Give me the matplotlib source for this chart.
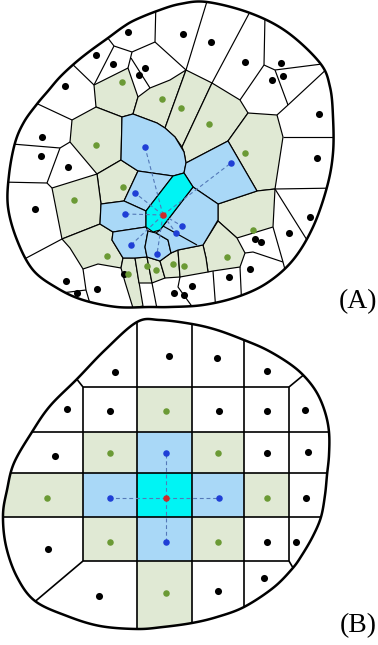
import numpy as np
import matplotlib
matplotlib.use("Agg")
import matplotlib.pyplot as plt
from matplotlib.path import Path
from matplotlib.patches import PathPatch, Polygon, Rectangle
from matplotlib.collections import LineCollection

plt.rcParams["font.family"] = "serif"
plt.rcParams["font.serif"] = ["Liberation Serif", "DejaVu Serif"]

W, H = 378, 645

GREEN = "#e0e9d4"
BLUE = "#a9d8f7"
CYAN = "#00f4f4"
DOT_GREEN = "#6b9a35"
DOT_BLUE = "#1f3fd6"
DOT_RED = "#cc2a2a"
DASH = "#5479b8"

# ---------------- panel A : irregular tessellation ----------------
BLOB_A = [(180, 4), (207, 2), (250, 13), (287, 32), (320, 63), (330, 87),
          (333, 117), (333, 153), (327, 187), (313, 227), (293, 260),
          (267, 283), (237, 297), (203, 305), (170, 307), (150, 307),
          (117, 307), (83, 300), (57, 288), (33, 270), (17, 240), (8, 207),
          (9, 175), (15, 143), (24, 122), (37, 104), (48, 91), (60, 77),
          (75, 63), (90, 51), (108, 38), (123, 27), (135, 20), (157, 11)]

CELL_A_CYAN = [(146, 211), (173, 176), (184, 173), (193, 187), (160, 230),
               (153, 232), (146, 227)]

CELLS_A_BLUE = [
    [(122, 117), (133, 114), (157, 123), (165, 128), (175, 137), (184, 152),
     (186, 163), (184, 173), (173, 176), (138, 171), (121, 160)],
    [(186, 163), (228, 141), (257, 191), (218, 204), (193, 187), (184, 173)],
    [(138, 171), (173, 176), (146, 211), (124, 201)],
    [(101, 204), (124, 201), (146, 211), (146, 227), (113, 232), (100, 224)],
    [(113, 232), (146, 227), (148, 231), (145, 247), (147, 257), (135, 258),
     (123, 258), (112, 240)],
    [(148, 231), (156, 233), (168, 240), (171, 253), (160, 261), (147, 257),
     (145, 247)],
    [(160, 230), (193, 187), (218, 204), (218, 220), (203, 245), (178, 250),
     (171, 253), (168, 240), (156, 233)],
]

CELLS_A_GREEN = [
    [(94, 85), (128, 68), (138, 97), (133, 114), (122, 117), (96, 107)],
    [(138, 97), (150, 88), (170, 80), (186, 70), (165, 128), (157, 123),
     (133, 114)],
    [(186, 70), (212, 83), (182, 147), (175, 137), (165, 128)],
    [(212, 83), (240, 100), (248, 113), (228, 141), (186, 163), (184, 152),
     (182, 147)],
    [(248, 113), (277, 115), (283, 137), (275, 189), (257, 191), (228, 141)],
    [(218, 204), (257, 191), (275, 189), (273, 227), (237, 238), (218, 221)],
    [(203, 245), (218, 221), (237, 238), (245, 253), (240, 267), (213, 271),
     (208, 272), (206, 258)],
    [(72, 120), (96, 107), (122, 117), (121, 160), (97, 174), (70, 142)],
    [(97, 174), (121, 160), (138, 171), (124, 201), (101, 204)],
    [(52, 188), (97, 174), (101, 204), (100, 224), (62, 239)],
    [(62, 239), (100, 224), (113, 232), (112, 240), (123, 258), (121, 268),
     (98, 264), (83, 269), (70, 248)],
    [(123, 258), (135, 258), (143, 306), (133, 308), (125, 282), (121, 268)],
    [(135, 258), (147, 257), (152, 283), (139, 283)],
    [(147, 257), (160, 261), (165, 278), (152, 283)],
    [(160, 261), (171, 253), (178, 250), (180, 277), (165, 278)],
    [(178, 250), (203, 245), (206, 258), (208, 272), (180, 277)],
]

EDGES_A = [
    [(66, 58), (94, 85)], [(104, 33), (114, 46)], [(114, 46), (94, 85)],
    [(114, 46), (132, 52)], [(132, 52), (155, 42)], [(155, 42), (156, 0)],
    [(132, 52), (128, 68)], [(131, 58), (150, 88)], [(155, 42), (186, 70)],
    [(186, 70), (208, -2)], [(212, 83), (252, 8)], [(240, 100), (264, 65)],
    [(264, 65), (265, 15)], [(264, 65), (275, 70)], [(275, 70), (330, 63)],
    [(275, 70), (288, 105)], [(288, 105), (330, 66)], [(288, 105), (277, 115)],
    [(283, 137), (340, 137)], [(275, 189), (340, 188)],
    [(275, 189), (312, 248)], [(273, 227), (283, 262), (289, 285)],
    [(245, 253), (253, 252), (283, 262)], [(240, 267), (242, 310)],
    [(213, 271), (216, 312)], [(180, 277), (178, 287), (196, 312)],
    [(152, 283), (158, 314)], [(83, 269), (86, 290)], [(86, 290), (45, 295)],
    [(86, 290), (93, 314)], [(62, 239), (15, 264)], [(47, 183), (0, 182)],
    [(60, 148), (47, 183)], [(47, 183), (52, 188)], [(60, 148), (0, 143)],
    [(70, 142), (60, 148)], [(72, 120), (25, 98)],
    [(163, 226), (197, 245)],
]

DOTS_A_BLACK = [(128, 32), (183, 34), (211, 42), (96, 55), (113, 64),
                (145, 68), (139, 75), (245, 62), (281, 63), (272, 80),
                (283, 76), (65, 86), (319, 114), (42, 137), (41, 156),
                (68, 167), (317, 158), (35, 209), (310, 217), (289, 233),
                (255, 239), (261, 242), (250, 269), (229, 277), (124, 274),
                (66, 281), (77, 293), (97, 289), (192, 286), (174, 293),
                (184, 295)]
DOTS_A_GREEN = [(122, 82), (162, 99), (181, 108), (209, 124), (96, 145),
                (245, 153), (123, 187), (74, 200), (253, 230), (107, 256),
                (227, 257), (128, 274), (147, 266), (156, 270), (173, 264),
                (184, 266)]
DOTS_A_BLUE = [(145, 147), (231, 163), (135, 193), (125, 214), (182, 226),
               (176, 233), (131, 245), (157, 254)]
DOT_A_RED = (163, 215)

# ---------------- panel B : regular grid ----------------
BLOB_B = [(137, 322), (160, 320), (192, 324), (217, 330), (244, 340),
          (267, 350), (290, 364), (305, 377), (317, 393), (325, 412),
          (329, 432), (329, 455), (327, 475), (325, 495), (321, 517),
          (313, 536), (302, 555), (292, 569), (273, 588), (244, 607),
          (217, 617), (192, 623), (163, 627), (137, 629), (100, 626),
          (67, 616), (35, 601), (17, 577), (6, 546), (3, 515), (7, 490),
          (14, 463), (32, 432), (50, 406), (77, 379), (105, 350)]

GRID_X = [-10, 83, 137, 192, 244, 289, 400]
GRID_Y = [300, 387, 432, 473, 517, 561, 660]
# 0 white, 1 green, 2 blue, 3 cyan
GRID_KIND = [
    [0, 0, 0, 0, 0, 0],
    [0, 0, 1, 0, 0, 0],
    [0, 1, 2, 1, 0, 0],
    [1, 2, 3, 2, 1, 0],
    [0, 1, 2, 1, 0, 0],
    [0, 0, 1, 0, 0, 0],
]
V_LINES_B = [(83, 387, 561), (137, 300, 660), (192, 300, 660),
             (244, 300, 660), (289, 387, 561)]
H_LINES_B = [(387, 83, 289), (432, -10, 400), (473, -10, 400),
             (517, -10, 400), (561, 83, 289)]
DIAG_B = [[(83, 387), (68, 368)], [(289, 387), (312, 368)],
          [(83, 561), (25, 610)], [(289, 561), (299, 578)]]

DOTS_B_BLACK = [(115, 372), (169, 356), (217, 358), (267, 371), (67, 409),
                (110, 411), (219, 411), (267, 411), (305, 410), (55, 456),
                (267, 453), (308, 452), (306, 498), (48, 549), (267, 542),
                (296, 542), (99, 596), (218, 591), (264, 578)]
DOTS_B_GREEN = [(166, 411), (110, 453), (218, 453), (47, 498), (267, 498),
                (110, 542), (218, 542), (166, 593)]
DOTS_B_BLUE = [(166, 453), (110, 498), (219, 498), (166, 542)]
DOT_B_RED = (166, 498)


def closed_curve(pts, n=16):
    p = np.asarray(pts, float)
    m = len(p)
    t = np.linspace(0, 1, n, endpoint=False)[:, None]
    out = []
    for i in range(m):
        p0, p1, p2, p3 = p[i - 1], p[i], p[(i + 1) % m], p[(i + 2) % m]
        out.append(0.5 * (2 * p1 + (-p0 + p2) * t
                          + (2 * p0 - 5 * p1 + 4 * p2 - p3) * t ** 2
                          + (-p0 + 3 * p1 - 3 * p2 + p3) * t ** 3))
    c = np.vstack(out)
    return np.vstack([c, c[:1]])


def blob_patch(ax, pts):
    path = Path(closed_curve(pts), closed=True)
    clip = PathPatch(path, facecolor="white", edgecolor="none", zorder=0)
    ax.add_patch(clip)
    ax.add_patch(PathPatch(path, facecolor="none", edgecolor="black",
                           lw=1.8, zorder=6))
    return clip


def dots(ax, pts, color, s):
    xy = np.asarray(pts, float)
    ax.scatter(xy[:, 0], xy[:, 1], s=s, color=color, zorder=5, linewidths=0)


def dashes(ax, red, blues):
    for bx, by in blues:
        ax.plot([red[0], bx], [red[1], by], color=DASH, lw=0.8,
                ls=(0, (3.5, 2.5)), zorder=4)


def main():
    fig = plt.figure(figsize=(W / 100, H / 100), dpi=100)
    ax = fig.add_axes([0, 0, 1, 1])
    ax.set_xlim(0, W)
    ax.set_ylim(H, 0)
    ax.axis("off")

    # panel A
    clip = blob_patch(ax, BLOB_A)
    groups = [(CELLS_A_GREEN, GREEN), (CELLS_A_BLUE, BLUE), ([CELL_A_CYAN], CYAN)]
    for cells, col in groups:
        for poly in cells:
            p = Polygon(poly, closed=True, facecolor=col, edgecolor="black",
                        lw=0.85, zorder=2)
            ax.add_patch(p)
            p.set_clip_path(clip)
    lc = LineCollection(EDGES_A, colors="black", linewidths=0.85, zorder=2)
    ax.add_collection(lc)
    lc.set_clip_path(clip)
    dashes(ax, DOT_A_RED, DOTS_A_BLUE)
    dots(ax, DOTS_A_BLACK, "black", 26)
    dots(ax, DOTS_A_GREEN, DOT_GREEN, 22)
    dots(ax, DOTS_A_BLUE, DOT_BLUE, 22)
    dots(ax, [DOT_A_RED], DOT_RED, 22)

    # panel B
    clip_b = blob_patch(ax, BLOB_B)
    fills = ["white", GREEN, BLUE, CYAN]
    for r in range(len(GRID_Y) - 1):
        for c in range(len(GRID_X) - 1):
            k = GRID_KIND[r][c]
            if k == 0:
                continue
            rect = Rectangle((GRID_X[c], GRID_Y[r]), GRID_X[c + 1] - GRID_X[c],
                             GRID_Y[r + 1] - GRID_Y[r], facecolor=fills[k],
                             edgecolor="none", zorder=1)
            ax.add_patch(rect)
            rect.set_clip_path(clip_b)
    segs = [[(x, y0), (x, y1)] for x, y0, y1 in V_LINES_B]
    segs += [[(x0, y), (x1, y)] for y, x0, x1 in H_LINES_B]
    segs += DIAG_B
    lcb = LineCollection(segs, colors="black", linewidths=1.2, zorder=2)
    ax.add_collection(lcb)
    lcb.set_clip_path(clip_b)
    dashes(ax, DOT_B_RED, DOTS_B_BLUE)
    dots(ax, DOTS_B_BLACK, "black", 26)
    dots(ax, DOTS_B_GREEN, DOT_GREEN, 22)
    dots(ax, DOTS_B_BLUE, DOT_BLUE, 22)
    dots(ax, [DOT_B_RED], DOT_RED, 22)

    ax.text(377, 302, "(A)", ha="right", va="center", fontsize=20)
    ax.text(377, 626, "(B)", ha="right", va="center", fontsize=20)

    fig.savefig("out.png", dpi=100)


if __name__ == "__main__":
    main()
